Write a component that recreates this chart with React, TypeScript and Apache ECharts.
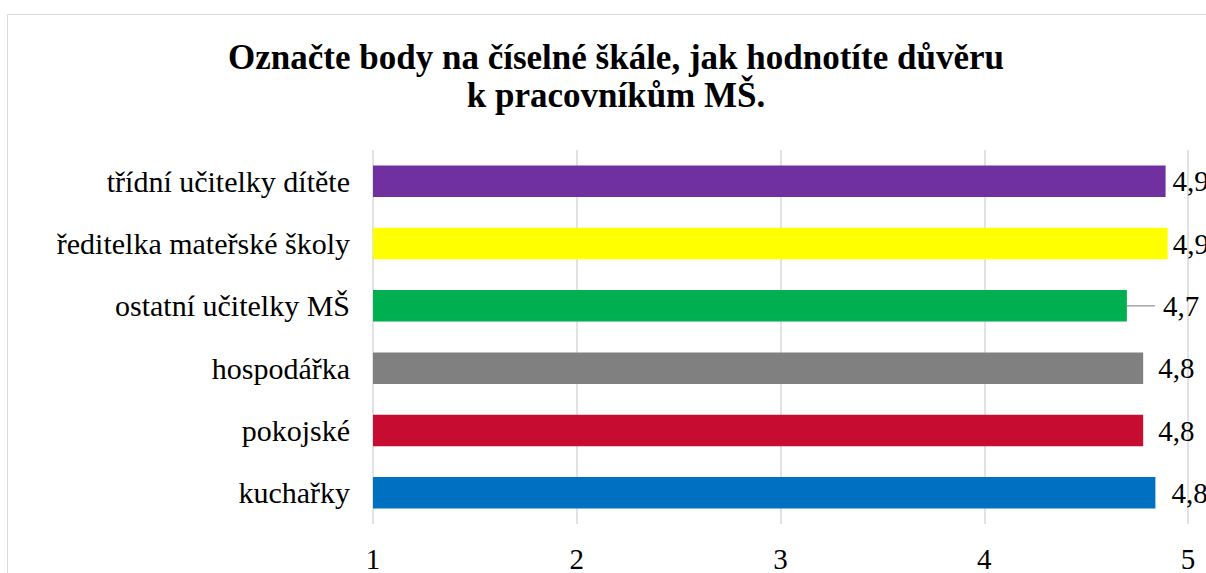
import React, { useEffect, useRef } from "react";
import * as echarts from "echarts";

const titleLines = ["Označte body na číselné škále, jak hodnotíte důvěru", "k pracovníkům MŠ."];
const categories = [
  "třídní učitelky dítěte",
  "ředitelka mateřské školy",
  "ostatní učitelky MŠ",
  "hospodářka",
  "pokojské",
  "kuchařky",
];
const values = [4.89, 4.9, 4.7, 4.78, 4.78, 4.84];
const barColors = ["#7030a0", "#ffff00", "#00b050", "#808080", "#c60c30", "#0070c0"];
const labelDistances = [7, 5, 0, 15, 15, 16];
const leaderIndex = 2;
const axisMin = 1;
const axisMax = 5;
const axisStep = 1;

const FONT = "Liberation Serif";
const FS = 29;

const fmt = (v: number) => v.toFixed(1).replace(".", ",");

export default function App() {
  const ref = useRef<HTMLDivElement>(null);
  useEffect(() => {
    const chart = echarts.init(ref.current!, null, { renderer: "svg" });
    chart.setOption({
      animation: false,
      backgroundColor: "#ffffff",
      textStyle: { fontFamily: FONT },
      title: {
        text: titleLines.join("\n"),
        left: 611,
        textAlign: "center",
        top: 33,
        textStyle: {
          fontFamily: FONT,
          fontSize: 35,
          fontWeight: "bold",
          color: "#000000",
          lineHeight: 38,
        },
      },
      graphic: [
        {
          type: "rect",
          shape: { x: 7.5, y: 14.5, width: 1400, height: 800 },
          style: { fill: "none", stroke: "#d9d9d9", lineWidth: 1 },
          silent: true,
          z: -1,
        },
      ],
      grid: { left: 373, right: 18, top: 150, bottom: 46, containLabel: false },
      xAxis: {
        type: "value",
        min: axisMin,
        max: axisMax,
        interval: axisStep,
        axisLine: { show: false },
        axisTick: { show: false },
        splitLine: { show: true, lineStyle: { color: "#d9d9d9", width: 1.5 } },
        axisLabel: {
          fontFamily: FONT,
          fontSize: FS,
          color: "#000000",
          margin: 20,
        },
      },
      yAxis: {
        type: "category",
        data: categories,
        inverse: true,
        axisLine: { show: false },
        axisTick: { show: false },
        axisLabel: {
          fontFamily: FONT,
          fontSize: 30,
          color: "#000000",
          margin: 23,
        },
      },
      series: [
        {
          type: "bar",
          barWidth: "50.5%",
          data: values.map((v, i) => ({
            value: v,
            itemStyle: { color: barColors[i] },
            label:
              i === leaderIndex
                ? {
                    distance: 0,
                    formatter: (p: any) => "{line|}{gap|}{val|" + fmt(p.value) + "}",
                  }
                : { distance: labelDistances[i] },
          })),
          label: {
            show: true,
            position: "right",
            fontFamily: FONT,
            fontSize: FS,
            color: "#000000",
            formatter: (p: any) => fmt(p.value),
            rich: {
              line: {
                width: 28,
                height: 1.5,
                backgroundColor: "#a6a6a6",
                verticalAlign: "middle",
              },
              gap: { width: 8, height: 1, verticalAlign: "middle" },
              val: {
                fontFamily: FONT,
                fontSize: FS,
                color: "#000000",
                verticalAlign: "middle",
              },
            },
          },
        },
      ],
    });
    return () => chart.dispose();
  }, []);
  return (
    <div
      ref={ref}
      style={{ position: "fixed", left: 0, top: 0, width: 1206, height: 573 }}
    />
  );
}
